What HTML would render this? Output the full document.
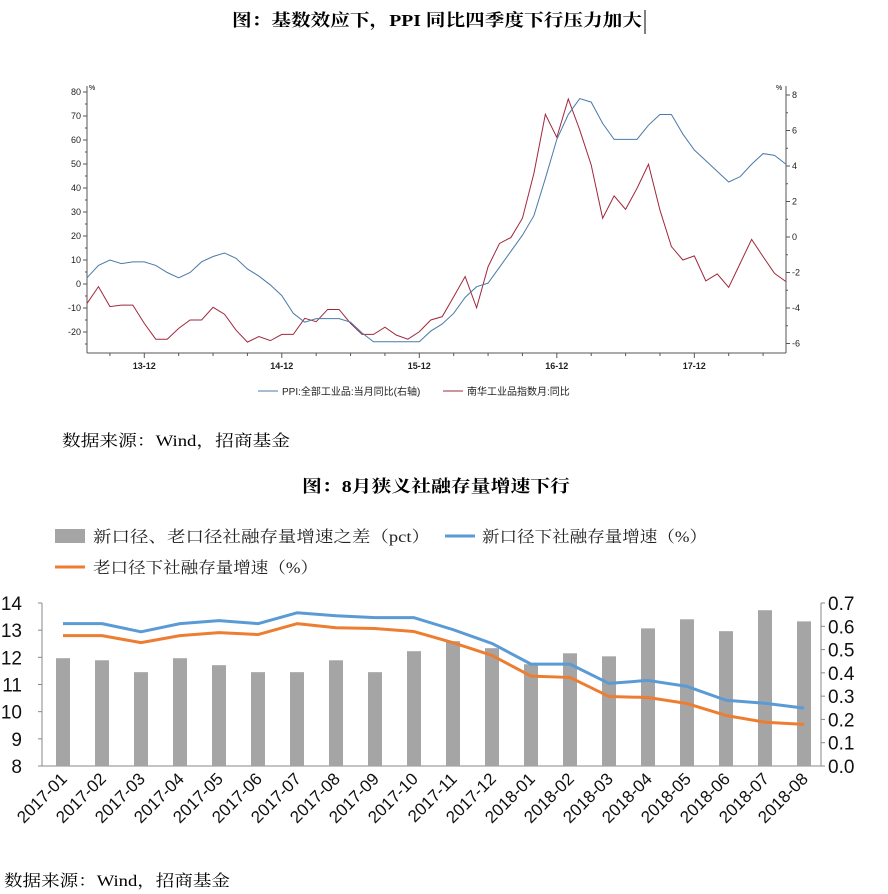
<!DOCTYPE html>
<html><head><meta charset="utf-8"><style>
body{margin:0;background:#fff}
svg{display:block}
.t{font-family:"Liberation Serif","Noto Serif CJK SC",serif}
.s{font-family:"Liberation Sans","Noto Sans CJK SC",sans-serif}
</style></head><body>
<svg id="svg" width="888" height="894" viewBox="0 0 888 894" xmlns="http://www.w3.org/2000/svg">
<text class="t" x="232" y="26" font-size="17" font-weight="bold" textLength="410" lengthAdjust="spacingAndGlyphs">图：基数效应下，PPI 同比四季度下行压力加大</text>
<line x1="645" y1="10" x2="645" y2="34" stroke="#000" stroke-width="1"/>
<g id="top"></g>
<text class="t" x="62" y="446" font-size="16" textLength="228" lengthAdjust="spacingAndGlyphs">数据来源：Wind，招商基金</text>
<text class="t" x="302" y="492" font-size="17" font-weight="bold" textLength="268" lengthAdjust="spacingAndGlyphs">图：8月狭义社融存量增速下行</text>
<g id="bot"></g>
<text class="t" x="4" y="886" font-size="16" textLength="226" lengthAdjust="spacingAndGlyphs">数据来源：Wind，招商基金</text>
</svg>
<script>
// ---- top chart data ----
const ppiValues=[-2.3,-1.6,-1.3,-1.5,-1.4,-1.4,-1.6,-2.0,-2.3,-2.0,-1.4,-1.1,-0.9,-1.2,-1.8,-2.2,-2.7,-3.3,-4.3,-4.8,-4.6,-4.6,-4.6,-4.8,-5.4,-5.9,-5.9,-5.9,-5.9,-5.9,-5.3,-4.9,-4.3,-3.4,-2.8,-2.6,-1.7,-0.8,0.1,1.2,3.3,5.5,6.9,7.8,7.6,6.4,5.5,5.5,5.5,6.3,6.9,6.9,5.8,4.9,4.3,3.7,3.1,3.4,4.1,4.7,4.6,4.1];
const nanhuaValues=[-8.1,-1.1,-9.4,-8.8,-8.8,-16.4,-23,-23,-18.5,-15,-15,-9.7,-12.6,-19.2,-24.2,-21.9,-23.6,-21,-21,-14.3,-15.7,-10.6,-10.6,-16.4,-21,-21,-18,-21.3,-23,-19.9,-15,-13.6,-5.3,3.1,-9.9,7.2,16.9,19.4,27.4,46.1,70.7,61.1,77.1,64.2,49.6,27.4,36.7,31.1,39.9,49.9,30.8,15.6,10,11.7,1.3,4.2,-1.4,8.6,18.6,11.4,4.4,1.0];
const leftTicks=[80,70,60,50,40,30,20,10,0,-10,-20];
const rightTicks=[8,6,4,2,0,-2,-4,-6];
const xLabels=[{i:5,t:"13-12"},{i:17,t:"14-12"},{i:29,t:"15-12"},{i:41,t:"16-12"},{i:53,t:"17-12"}];
// ---- bottom chart data ----
const categories=["2017-01","2017-02","2017-03","2017-04","2017-05","2017-06","2017-07","2017-08","2017-09","2017-10","2017-11","2017-12","2018-01","2018-02","2018-03","2018-04","2018-05","2018-06","2018-07","2018-08"];
const diffValues=[0.463,0.454,0.403,0.463,0.433,0.403,0.403,0.454,0.403,0.493,0.536,0.506,0.437,0.484,0.471,0.591,0.63,0.579,0.669,0.621];
const newValues=[13.24,13.24,12.94,13.24,13.35,13.24,13.64,13.53,13.46,13.46,13.02,12.51,11.75,11.75,11.04,11.15,10.93,10.42,10.31,10.13];
const oldValues=[12.8,12.8,12.54,12.8,12.91,12.84,13.24,13.09,13.06,12.95,12.54,12.07,11.31,11.26,10.56,10.52,10.3,9.86,9.61,9.53];
const bLeftTicks=[14,13,12,11,10,9,8];
const bRightTicks=["0.7","0.6","0.5","0.4","0.3","0.2","0.1","0.0"];

const NS="http://www.w3.org/2000/svg";
function mk(p,tag,a,txt){const e=document.createElementNS(NS,tag);for(const k in a)e.setAttribute(k,a[k]);if(txt!==undefined)e.textContent=txt;p.appendChild(e);return e;}

// top chart
(function(){
const g=document.getElementById('top');
const X0=87,X1=786,YB=353;
const xs=i=>X0+i*(X1-X0)/61;
const yl=v=>284-v*2.4;
const yr=v=>237-v*17.75;
let e;
e=mk(g,'line',{x1:X0,y1:86,x2:X0,y2:YB,stroke:'#555','stroke-width':1});

e=mk(g,'line',{x1:X1,y1:86,x2:X1,y2:YB,stroke:'#555','stroke-width':1});

e=mk(g,'line',{x1:X0,y1:YB,x2:X1,y2:YB,stroke:'#555','stroke-width':1});

for(let v=80;v>=-25;v-=5){const y=yl(v);mk(g,'line',{x1:X0-(v%10===0?4:2),y1:y,x2:X0,y2:y,stroke:'#555'});}
leftTicks.forEach(v=>{e=mk(g,'text',{x:X0-6,y:yl(v)+3,'text-anchor':'end','font-size':9,class:'s',fill:'#222'},String(v));
});
for(let v=8;v>=-6.5;v-=1){const y=yr(v);mk(g,'line',{x1:X1,y1:y,x2:X1+(v%2===0?4:2),y2:y,stroke:'#555'});}
rightTicks.forEach(v=>{e=mk(g,'text',{x:X1+6,y:yr(v)+3,'font-size':9,class:'s',fill:'#222'},String(v));
});
mk(g,'text',{x:89,y:90,'font-size':7,class:'s'},'%');
mk(g,'text',{x:776,y:90,'font-size':7,class:'s'},'%');
for(let i=2;i<62;i+=3)mk(g,'line',{x1:xs(i),y1:YB,x2:xs(i),y2:YB+(i%12===5?5:3),stroke:'#555'});
xLabels.forEach(l=>{e=mk(g,'text',{x:xs(l.i),y:YB+16,'text-anchor':'middle','font-size':9,'font-weight':'bold',class:'s',fill:'#222'},l.t);
});
e=mk(g,'polyline',{points:nanhuaValues.map((v,i)=>xs(i)+','+yl(v)).join(' '),fill:'none',stroke:'#a0283c','stroke-width':1});

e=mk(g,'polyline',{points:ppiValues.map((v,i)=>xs(i)+','+yr(v)).join(' '),fill:'none',stroke:'#4a7aa8','stroke-width':1});

mk(g,'line',{x1:258,y1:391,x2:278,y2:391,stroke:'#4a7aa8'});
e=mk(g,'text',{x:282,y:395,'font-size':10,class:'s',fill:'#222'},'PPI:全部工业品:当月同比(右轴)');

mk(g,'line',{x1:443,y1:391,x2:463,y2:391,stroke:'#a0283c'});
e=mk(g,'text',{x:467,y:395,'font-size':10,class:'s',fill:'#222'},'南华工业品指数月:同比');

})();

// bottom chart
(function(){
const g=document.getElementById('bot');
const X0=42,X1=821,Y0=603,YB=766;
const xc=i=>63+i*39;
const yl=v=>YB-(v-8)*(YB-Y0)/6;
const yr=v=>YB-v*(YB-Y0)/0.7;
let e;
// legend
mk(g,'rect',{x:55,y:529,width:30,height:14,fill:'#a5a5a5'});
e=mk(g,'text',{x:93,y:542,'font-size':16,class:'t',fill:'#222',textLength:337,lengthAdjust:'spacingAndGlyphs'},'新口径、老口径社融存量增速之差（pct）');

mk(g,'line',{x1:445,y1:536,x2:475,y2:536,stroke:'#5b9bd5','stroke-width':3});
e=mk(g,'text',{x:482,y:542,'font-size':16,class:'t',fill:'#222',textLength:225,lengthAdjust:'spacingAndGlyphs'},'新口径下社融存量增速（%）');

mk(g,'line',{x1:55,y1:567,x2:85,y2:567,stroke:'#ed7d31','stroke-width':3});
e=mk(g,'text',{x:93,y:573,'font-size':16,class:'t',fill:'#222',textLength:225,lengthAdjust:'spacingAndGlyphs'},'老口径下社融存量增速（%）');

mk(g,'line',{x1:X0,y1:Y0,x2:X0,y2:YB,stroke:'#888'});
mk(g,'line',{x1:X1,y1:Y0,x2:X1,y2:YB,stroke:'#888'});
e=mk(g,'line',{x1:X0,y1:YB,x2:X1,y2:YB,stroke:'#888'});

bLeftTicks.forEach(v=>{mk(g,'line',{x1:X0-4,y1:yl(v),x2:X0,y2:yl(v),stroke:'#888'});
e=mk(g,'text',{x:X0-20,y:yl(v)+7,'text-anchor':'end','font-size':19,class:'s',fill:'#111'},String(v));
});
bRightTicks.forEach(v=>{mk(g,'line',{x1:X1,y1:yr(+v),x2:X1+4,y2:yr(+v),stroke:'#888'});
e=mk(g,'text',{x:X1+7,y:yr(+v)+7,'font-size':19,class:'s',fill:'#111'},v);
});
diffValues.forEach((v,i)=>{e=mk(g,'rect',{x:xc(i)-7,y:yr(v),width:14,height:YB-yr(v),fill:'#a5a5a5'});
});
e=mk(g,'polyline',{points:oldValues.map((v,i)=>xc(i)+','+yl(v)).join(' '),fill:'none',stroke:'#ed7d31','stroke-width':3,'stroke-linejoin':'round'});

e=mk(g,'polyline',{points:newValues.map((v,i)=>xc(i)+','+yl(v)).join(' '),fill:'none',stroke:'#5b9bd5','stroke-width':3,'stroke-linejoin':'round'});

categories.forEach((c,i)=>{const x=xc(i)+5,y=780;
e=mk(g,'text',{x:x,y:y,'text-anchor':'end','font-size':17,class:'s',fill:'#111',transform:`rotate(-45 ${x} ${y})`},c);
});
})();
</script>
</body></html>
